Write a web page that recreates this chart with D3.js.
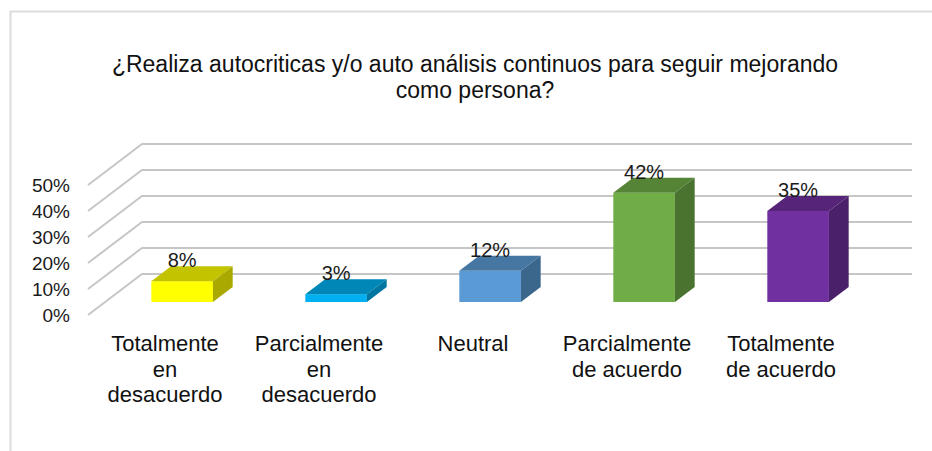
<!DOCTYPE html>
<html>
<head>
<meta charset="utf-8">
<script src="https://cdn.jsdelivr.net/npm/d3@7"></script>
<style>
  body { margin: 0; background: #fff; }
  svg { display: block; font-family: "Liberation Sans", Arial, sans-serif; }
</style>
</head>
<body>
<svg id="svg"></svg>
<script>
// survey answers
const categories = ["Totalmente en desacuerdo", "Parcialmente en desacuerdo", "Neutral", "Parcialmente de acuerdo", "Totalmente de acuerdo"];
const values = [0.08, 0.03, 0.12, 0.42, 0.35];
const yTicks = [0, 0.1, 0.2, 0.3, 0.4, 0.5];
const colors = ["#ffff00", "#00b0f0", "#5b9bd5", "#70ad47", "#7030a0"];
const titleLines = ["¿Realiza autocriticas y/o auto análisis continuos para seguir mejorando", "como persona?"];

var width = 932;
var height = 451;
var depth = {dx: 54, dy: -41}; // oblique offset of the back wall
var barDepth = [0.317, 0.683];  // where the bars sit inside the floor

var svg = d3.select("#svg")
    .attr("width", width)
    .attr("height", height);

// chart frame (runs off the right and bottom)
svg.append("rect")
    .attr("x", 10.5)
    .attr("y", 11.5)
    .attr("width", 960)
    .attr("height", 480)
    .attr("fill", "none")
    .attr("stroke", "#dcdcdc")
    .attr("stroke-width", 2);

svg.append("text")
    .attr("text-anchor", "middle")
    .attr("font-size", 23)
    .attr("fill", "#111")
  .selectAll("tspan")
  .data(titleLines)
  .join("tspan")
    .attr("x", 475)
    .attr("y", (d, i) => 72 + i * 26)
    .text(d => d);

var x = d3.scaleBand()
    .domain(categories)
    .range([88, 858])
    .paddingInner(0.6)
    .paddingOuter(0.3);

var y = d3.scaleLinear()
    .domain([0, 0.5])
    .range([315, 185]);

// floor/back-wall gridlines
svg.append("g")
    .attr("fill", "none")
    .attr("stroke", "#c6c6c6")
    .attr("stroke-width", 2)
  .selectAll("polyline")
  .data(yTicks)
  .join("polyline")
    .attr("points", d => {
      var x0 = x.range()[0], x1 = x.range()[1];
      return [[x0, y(d)], [x0 + depth.dx, y(d) + depth.dy], [x1 + depth.dx, y(d) + depth.dy]].join(" ");
    });

// y labels at the front ends of the diagonals
var yAxis = svg.append("g")
    .attr("transform", "translate(" + x.range()[0] + ",0)")
    .call(d3.axisLeft(y).tickValues(yTicks).tickFormat(d3.format(".0%")).tickSize(0).tickPadding(18));
yAxis.select(".domain").remove();
yAxis.selectAll("text")
    .attr("font-family", "\"Liberation Sans\", Arial, sans-serif")
    .attr("font-size", 19)
    .attr("fill", "#1a1a1a");

// 3d bars
var bdx = (barDepth[1] - barDepth[0]) * depth.dx;
var bdy = (barDepth[1] - barDepth[0]) * depth.dy;
var bars = svg.append("g")
  .selectAll("g")
  .data(values.map((v, i) => ({cat: categories[i], value: v, color: colors[i]})))
  .join("g")
    .attr("transform", "translate(" + barDepth[0] * depth.dx + "," + barDepth[0] * depth.dy + ")");

bars.append("rect")
    .attr("x", d => x(d.cat))
    .attr("y", d => y(d.value))
    .attr("width", x.bandwidth())
    .attr("height", d => y(0) - y(d.value))
    .attr("fill", d => d.color);

bars.append("polygon")
    .attr("fill", d => d3.color(d.color).darker(0.75))
    .attr("points", d => {
      var x0 = x(d.cat), x1 = x0 + x.bandwidth(), t = y(d.value);
      return [[x0, t], [x1, t], [x1 + bdx, t + bdy], [x0 + bdx, t + bdy]].join(" ");
    });

bars.append("polygon")
    .attr("fill", d => d3.color(d.color).darker(1.15))
    .attr("points", d => {
      var x1 = x(d.cat) + x.bandwidth(), t = y(d.value), b = y(0);
      return [[x1, t], [x1 + bdx, t + bdy], [x1 + bdx, b + bdy], [x1, b]].join(" ");
    });

bars.append("text")
    .attr("x", d => x(d.cat) + x.bandwidth() / 2)
    .attr("y", d => y(d.value) + bdy + 1)
    .attr("text-anchor", "middle")
    .attr("font-size", 20)
    .attr("fill", "#1a1a1a")
    .text(d => d3.format(".0%")(d.value));

// category labels, wrapped like excel does
var wrap = function(text, maxWidth) {
  text.each(function() {
    var t = d3.select(this);
    var words = t.text().split(" ");
    var cx = t.attr("x");
    t.text(null);
    var line = [];
    var tspan = t.append("tspan").attr("x", cx).attr("dy", 0);
    words.forEach(w => {
      line.push(w);
      tspan.text(line.join(" "));
      if (tspan.node().getComputedTextLength() > maxWidth && line.length > 1) {
        line.pop();
        tspan.text(line.join(" "));
        line = [w];
        tspan = t.append("tspan").attr("x", cx).attr("dy", 25.5).text(w);
      }
    });
  });
};

svg.append("g")
  .selectAll("text")
  .data(categories)
  .join("text")
    .attr("x", d => x(d) + x.bandwidth() / 2)
    .attr("y", 351)
    .attr("text-anchor", "middle")
    .attr("font-size", 22)
    .attr("fill", "#111")
    .text(d => d)
    .call(wrap, 137);
</script>
</body>
</html>
